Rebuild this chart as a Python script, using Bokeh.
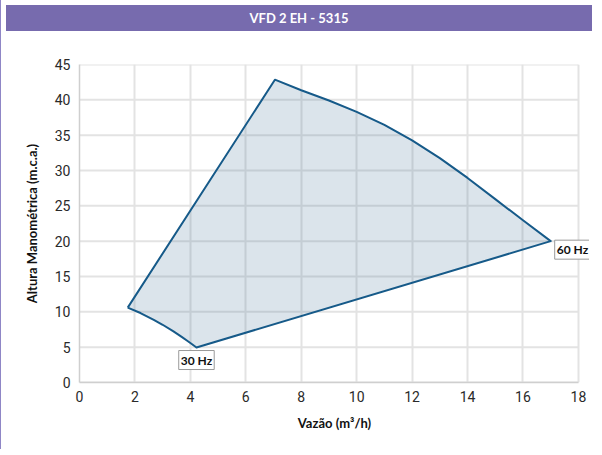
from bokeh.plotting import figure
from bokeh.models import Div, Label, FixedTicker, Range1d
from bokeh.layouts import column
from bokeh.embed import file_html
from bokeh.resources import INLINE

# ---- data (vazão m3/h, altura m.c.a.) ----
title_text = "VFD 2 EH - 5315"
x_ticks = [0, 2, 4, 6, 8, 10, 12, 14, 16, 18]
y_ticks = [0, 5, 10, 15, 20, 25, 30, 35, 40, 45]

# left edge (min point of 30 Hz curve up to max head at 60 Hz)
edge_left_q = [1.74, 7.05]
edge_left_h = [10.6, 42.85]
# 60 Hz curve
curve60_q = [7.05, 8.0, 9.0, 10.0, 11.0, 12.0, 13.0, 14.0, 15.0, 16.0, 17.0]
curve60_h = [42.85, 41.35, 39.9, 38.3, 36.45, 34.25, 31.75, 28.95, 25.95, 22.95, 20.0]
# bottom edge (60 Hz end point down to 30 Hz end point)
edge_bottom_q = [17.0, 4.22]
edge_bottom_h = [20.0, 4.95]
# 30 Hz curve (from its end point back to the left point)
curve30_q = [4.22, 4.05, 3.86, 3.7, 3.39, 3.0, 2.68, 2.2, 1.74]
curve30_h = [4.95, 5.44, 5.98, 6.42, 7.23, 8.17, 8.87, 9.83, 10.6]

label30 = ("30 Hz", curve30_q[0], curve30_h[0])
label60 = ("60 Hz", curve60_q[-1], curve60_h[-1])

poly_q = edge_left_q[:1] + curve60_q + edge_bottom_q[1:] + curve30_q[1:]
poly_h = edge_left_h[:1] + curve60_h + edge_bottom_h[1:] + curve30_h[1:]

LABF = "Lato"
TICKF = "Roboto"

x_lo, x_hi = x_ticks[0], x_ticks[-1]
y_lo, y_hi = y_ticks[0], y_ticks[-1]

header = Div(
    text=title_text, width=586, height=26,
    styles={"background-color": "#776bae", "color": "white",
            "font-family": LABF, "font-weight": "bold", "font-size": "13px",
            "text-align": "center", "line-height": "26px"},
)

# frame extends a little beyond 18 so the "60 Hz" label is not clipped
p = figure(frame_width=510, frame_height=318, output_backend="svg", toolbar_location=None,
           x_range=Range1d(x_lo, 18.4), y_range=Range1d(y_lo, y_hi),
           min_border_left=78, min_border_right=0, min_border_top=28,
           min_border_bottom=67)
p.outline_line_color = None

for ax in (p.xaxis[0], p.yaxis[0]):
    ax.major_tick_line_color = None
    ax.minor_tick_line_color = None
    ax.major_tick_out = 0
    ax.major_tick_in = 0
    ax.minor_tick_out = 0
    ax.axis_line_color = "#cfcfcf"
    ax.axis_line_width = 1.5
    ax.major_label_text_font = TICKF
    ax.major_label_text_font_size = "14px"
    ax.major_label_text_color = "#2a2a2a"
    ax.axis_label_text_font = LABF
    ax.axis_label_text_font_style = "bold"
    ax.axis_label_text_font_size = "13px"
    ax.axis_label_text_color = "#111111"

p.xaxis.bounds = (x_lo, x_hi)
p.xaxis.ticker = FixedTicker(ticks=x_ticks)
p.yaxis.ticker = FixedTicker(ticks=y_ticks)
p.xaxis.axis_label = "Vazão (m³/h)"
p.yaxis.axis_label = "Altura Manométrica (m.c.a.)"
p.xaxis.major_label_standoff = 8
p.yaxis.major_label_standoff = 9
p.xaxis.axis_label_standoff = 10
p.yaxis.axis_label_standoff = 12

p.xgrid.ticker = FixedTicker(ticks=x_ticks)
p.xgrid.grid_line_color = "#e3e3e3"
p.xgrid.grid_line_width = 2
p.ygrid.visible = False
# horizontal grid lines limited to 0..18
p.segment(x0=[x_lo] * len(y_ticks), x1=[x_hi] * len(y_ticks), y0=y_ticks, y1=y_ticks,
          line_color="#e3e3e3", line_width=2, level="underlay")

p.patch(poly_q, poly_h, fill_color="#4b789b", fill_alpha=0.2, line_color=None)
p.line(poly_q + poly_q[:1], poly_h + poly_h[:1], line_color="#165a89", line_width=2,
       line_join="round")

for txt, qx, hy, align, xo, yo in [
    (label30[0], label30[1], label30[2], "center", 0, -3),
    (label60[0], label60[1], label60[2], "left", 4, 1),
]:
    p.add_layout(Label(x=qx, y=hy, text=txt, text_align=align, text_baseline="top",
                       x_offset=xo, y_offset=yo, text_font=LABF, text_font_style="bold",
                       text_font_size="12px", text_color="#111111",
                       background_fill_color="white", border_line_color="#9a9a9a",
                       border_line_width=1, padding=2))

layout = column(header, p, spacing=0, styles={"border-left": "1px solid #8f86c6"})
open("out.html", "w").write(file_html(layout, INLINE))
